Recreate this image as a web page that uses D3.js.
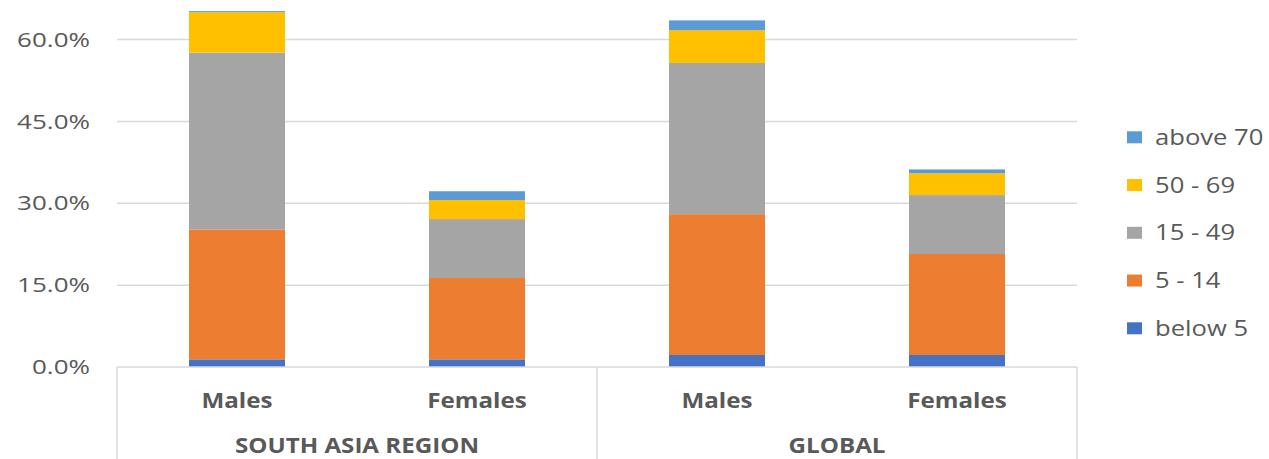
<!DOCTYPE html>
<html><head><meta charset="utf-8">
<script src="https://cdn.jsdelivr.net/npm/d3@7"></script>
<style>
html,body{margin:0;padding:0;background:#fff;}
svg{display:block;font-family:"Open Sans",sans-serif;}
</style></head>
<body><svg id="c" width="1269" height="459"></svg>
<script>
const groups = ["SOUTH ASIA REGION", "GLOBAL"];
const sexes = ["Males", "Females"];
const categories = ["SA-Males", "SA-Females", "GL-Males", "GL-Females"];
const seriesNames = ["below 5", "5 - 14", "15 - 49", "50 - 69", "above 70"];
const below5   = [1.4, 1.4, 2.2, 2.2];
const age5_14  = [23.8, 14.9, 25.8, 18.5];
const age15_49 = [32.4, 10.8, 27.7, 10.8];
const age50_69 = [7.4, 3.5, 6.0, 4.0];
const above70  = [0.2, 1.6, 1.8, 0.7];
const yTicks = [0, 15, 30, 45, 60];
const colors = ["#4472C4", "#ED7D31", "#A5A5A5", "#FFC000", "#5B9BD5"];

const seriesVals = [below5, age5_14, age15_49, age50_69, above70];
const table = categories.map((c, i) => {
  const o = {cat: c};
  seriesNames.forEach((s, k) => o[s] = seriesVals[k][i]);
  return o;
});

const svg = d3.select("#c");
const left = 117, right = 1077, y0 = 367, yTop = 39.5;
const x = d3.scaleBand().domain(categories).range([left, right]).paddingInner(0.6).paddingOuter(0.3);
const y = d3.scaleLinear().domain([0, 60]).range([y0, yTop]);
const txt = "#595959";

// gridlines
svg.append("g").selectAll("line").data(yTicks.filter(t => t > 0)).join("line")
  .attr("x1", left).attr("x2", right)
  .attr("y1", d => y(d)).attr("y2", d => y(d))
  .attr("stroke", "#d9d9d9").attr("stroke-width", 1.5);

// y tick labels
svg.append("g").selectAll("text").data(yTicks).join("text")
  .attr("transform", d => `translate(90,${y(d)}) scale(1.3,1)`)
  .attr("dy", "0.36em").attr("text-anchor", "end")
  .attr("font-size", 20).attr("fill", txt)
  .text(d => d3.format(".1f")(d) + "%");

// bars
const stack = d3.stack().keys(seriesNames)(table);
svg.append("g").selectAll("g").data(stack).join("g")
  .attr("fill", (d, i) => colors[i])
  .selectAll("rect").data(d => d).join("rect")
  .attr("x", d => x(d.data.cat)).attr("width", x.bandwidth())
  .attr("y", d => y(d[1])).attr("height", d => y(d[0]) - y(d[1]));

// category axis box
const ax = svg.append("g").attr("stroke", "#d9d9d9").attr("stroke-width", 1.5);
ax.append("line").attr("x1", left).attr("x2", right).attr("y1", y0).attr("y2", y0);
const groupEdges = [left, (left + right) / 2, right];
ax.selectAll("line.v").data(groupEdges).join("line").attr("class", "v")
  .attr("x1", d => d).attr("x2", d => d).attr("y1", y0).attr("y2", 459);

// sex labels
svg.append("g").selectAll("text").data(categories).join("text")
  .attr("transform", (d, i) => `translate(${x(d) + x.bandwidth() / 2},408) scale(1.15,1)`)
  .attr("text-anchor", "middle").attr("font-size", 21).attr("font-weight", "bold").attr("fill", txt)
  .text((d, i) => sexes[i % 2]);

// group labels
svg.append("g").selectAll("text").data(groups).join("text")
  .attr("transform", (d, i) => `translate(${(groupEdges[i] + groupEdges[i + 1]) / 2},453) scale(1.15,1)`)
  .attr("text-anchor", "middle").attr("font-size", 21).attr("font-weight", "bold").attr("fill", txt)
  .text(d => d);

// legend (top to bottom: reverse order)
const legendItems = seriesNames.map((s, i) => ({s, c: colors[i]})).reverse();
const lg = svg.append("g").selectAll("g").data(legendItems).join("g")
  .attr("transform", (d, i) => `translate(1127,${137.3 + i * 47.75})`);
lg.append("rect").attr("x", 0).attr("y", -6).attr("width", 15).attr("height", 12).attr("fill", d => d.c);
lg.append("text").attr("transform", "translate(28,0) scale(1.22,1)").attr("dy", "0.36em")
  .attr("font-size", 21).attr("fill", txt).text(d => d.s);
</script></body></html>
